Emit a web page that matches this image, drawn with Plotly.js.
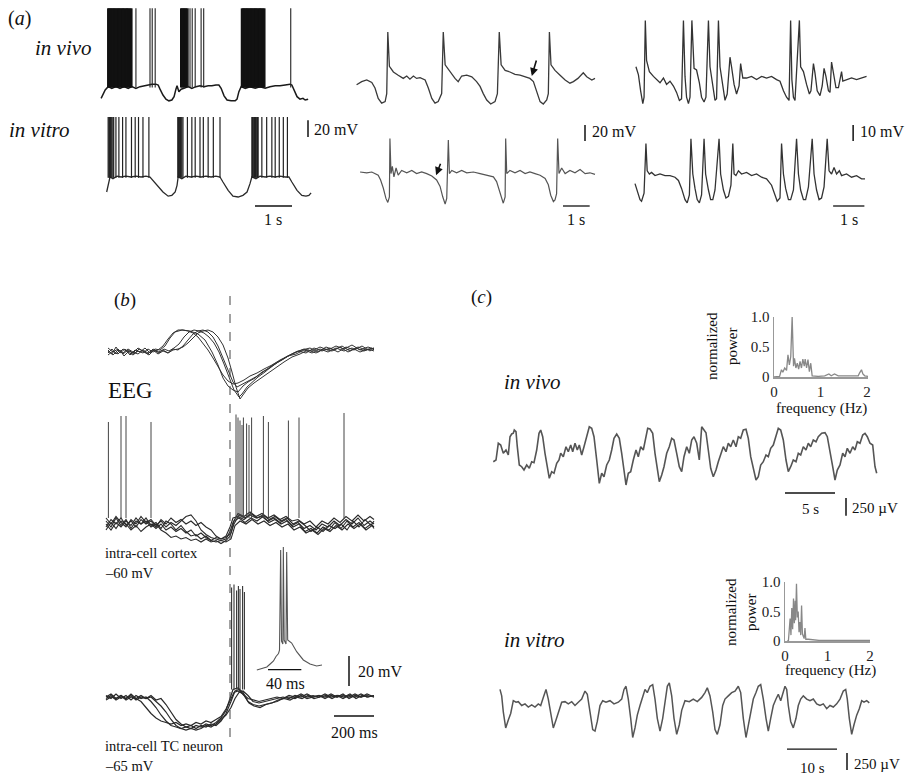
<!DOCTYPE html>
<html><head><meta charset="utf-8">
<script src="https://cdn.plot.ly/plotly-3.0.1.min.js"></script>
<style>html,body{margin:0;padding:0;background:#fff}#chart{width:910px;height:776px}</style>
</head><body><div id="chart"></div>
<script>
// ================= DATA (time, value) =================
// (a) column 1: time s, membrane potential mV
const aVivoSlow = [[0.03,-70],[0.08,-66],[0.14,-60],[0.22,-56],[0.32,-58],[0.43,-56],[0.54,-58],[0.65,-56],[0.76,-58],[0.86,-56],[0.97,-58],[1.08,-56],[1.19,-55],[1.30,-54],[1.40,-53],[1.51,-53],[1.57,-54],[1.62,-59],[1.70,-66],[1.78,-71],[1.86,-73],[1.94,-72],[2.00,-68],[2.05,-59],[2.08,-55],[2.13,-62],[2.19,-59],[2.27,-58],[2.38,-56],[2.48,-58],[2.59,-56],[2.70,-55],[2.81,-56],[2.92,-55],[3.02,-55],[3.13,-54],[3.21,-54],[3.27,-58],[3.35,-67],[3.43,-72],[3.54,-73],[3.65,-73],[3.70,-71],[3.75,-62],[3.81,-56],[3.92,-58],[4.05,-56],[4.19,-58],[4.32,-56],[4.46,-58],[4.59,-56],[4.73,-55],[4.86,-55],[5.00,-54],[5.13,-53],[5.18,-54],[5.24,-60],[5.32,-68],[5.40,-71],[5.48,-70],[5.54,-72],[5.62,-71]];
const aVivoBurstT = [0.22,0.24,0.27,0.30,0.32,0.35,0.38,0.40,0.43,0.46,0.49,0.51,0.54,0.57,0.60,0.62,0.65,0.68,0.71,0.73,0.76,0.79,0.82,0.85,
  2.19,2.21,2.24,2.27,2.29,2.32,2.35,
  3.83,3.86,3.89,3.91,3.94,3.97,3.99,4.02,4.05,4.08,4.10,4.13,4.16,4.19,4.21,4.24,4.27,4.30,4.32,4.35,4.38,4.41,4.44];
const aVivoSingleT = [0.97,1.35,1.41,1.49,2.38,2.43,2.49,2.57,2.73,2.80,5.15];
const aVivoSpikeBase = -57, aVivoSpikePeak = 38;
const aVitroSlow = [[0.18,-78],[0.22,-71],[0.27,-60],[0.35,-62],[0.46,-59],[0.57,-60],[0.70,-59],[0.84,-60],[0.97,-59],[1.11,-60],[1.24,-59],[1.35,-60],[1.43,-64],[1.57,-72],[1.70,-78],[1.84,-83],[1.94,-82],[2.03,-78],[2.08,-70],[2.11,-60],[2.21,-62],[2.32,-59],[2.46,-60],[2.59,-59],[2.73,-60],[2.86,-59],[3.00,-60],[3.13,-59],[3.24,-60],[3.32,-66],[3.46,-76],[3.59,-83],[3.73,-84],[3.86,-82],[3.97,-78],[4.05,-68],[4.10,-60],[4.21,-62],[4.32,-59],[4.46,-60],[4.59,-59],[4.73,-60],[4.86,-59],[5.00,-60],[5.10,-60],[5.18,-66],[5.32,-76],[5.45,-82],[5.56,-83],[5.64,-82],[5.70,-79]];
const aVitroSpikeT = [0.22,0.24,0.26,0.28,0.30,0.32,0.35,0.37,0.43,0.51,0.61,0.70,0.85,0.95,1.04,1.16,1.32,
  2.10,2.12,2.15,2.17,2.19,2.21,2.24,2.36,2.48,2.57,2.70,2.79,2.92,3.06,3.24,
  4.10,4.12,4.15,4.17,4.20,4.22,4.25,4.27,4.37,4.50,4.64,4.73,4.84,4.95,5.06];
const aVitroSpikeBase = -61, aVitroSpikePeak = 12;
// (a) column 2
const aVivo2 = [[0.06,-66],[0.25,-62],[0.44,-60],[0.63,-63],[0.75,-70],[0.87,-83],[1.00,-89],[1.13,-87],[1.19,-77],[1.23,0],[1.29,-43],[1.44,-50],[1.62,-54],[1.81,-58],[1.94,-55],[2.06,-59],[2.19,-55],[2.31,-58],[2.44,-57],[2.63,-60],[2.75,-70],[2.88,-83],[3.00,-89],[3.12,-87],[3.25,-77],[3.31,0],[3.38,-41],[3.56,-50],[3.75,-58],[3.87,-62],[4.00,-55],[4.19,-54],[4.38,-56],[4.56,-62],[4.69,-68],[4.81,-77],[4.94,-85],[5.09,-90],[5.25,-87],[5.34,-77],[5.41,0],[5.48,-41],[5.63,-48],[5.81,-50],[6.00,-53],[6.19,-54],[6.38,-56],[6.56,-58],[6.69,-62],[6.81,-75],[6.94,-87],[7.06,-90],[7.19,-85],[7.25,-77],[7.29,0],[7.35,-41],[7.50,-48],[7.69,-54],[7.88,-60],[8.06,-64],[8.19,-62],[8.36,-58],[8.56,-51],[8.69,-56],[8.88,-60],[9.00,-58]];
const aVitro2 = [[0.19,-60],[0.44,-61],[0.63,-60],[0.75,-62],[0.87,-64],[0.96,-70],[1.06,-80],[1.16,-93],[1.23,-98],[1.29,-91],[1.31,-18],[1.35,-62],[1.40,-53],[1.46,-66],[1.54,-55],[1.62,-64],[1.75,-58],[1.94,-61],[2.13,-58],[2.31,-62],[2.50,-60],[2.69,-62],[2.88,-65],[3.06,-70],[3.19,-78],[3.29,-91],[3.38,-100],[3.44,-93],[3.50,-20],[3.54,-62],[3.63,-58],[3.81,-61],[4.00,-58],[4.19,-61],[4.44,-60],[4.69,-62],[4.94,-64],[5.19,-66],[5.31,-72],[5.41,-83],[5.50,-95],[5.56,-99],[5.63,-91],[5.65,-18],[5.69,-62],[5.81,-58],[6.00,-61],[6.19,-58],[6.38,-62],[6.56,-60],[6.75,-62],[6.94,-64],[7.13,-68],[7.25,-76],[7.34,-89],[7.44,-97],[7.50,-95],[7.56,-87],[7.60,-18],[7.65,-62],[7.75,-55],[7.88,-62],[8.06,-58],[8.25,-61],[8.44,-57],[8.63,-62],[8.81,-61],[9.00,-63]];
// (a) column 3
const aVivo3 = [[0.19,-53],[0.27,-58],[0.34,-68],[0.41,-76],[0.45,-72],[0.49,-24],[0.53,-49],[0.62,-56],[0.75,-59],[0.85,-61],[0.96,-63],[1.07,-60],[1.17,-64],[1.28,-62],[1.39,-65],[1.49,-69],[1.58,-74],[1.65,-73],[1.71,-24],[1.76,-59],[1.81,-72],[1.87,-76],[1.92,-72],[1.98,-24],[2.05,-54],[2.13,-55],[2.22,-63],[2.29,-72],[2.37,-75],[2.43,-72],[2.51,-24],[2.56,-53],[2.65,-65],[2.72,-74],[2.77,-73],[2.83,-24],[2.88,-53],[2.97,-66],[3.04,-74],[3.11,-70],[3.20,-47],[3.25,-53],[3.33,-64],[3.41,-70],[3.49,-65],[3.54,-51],[3.61,-60],[3.73,-60],[3.89,-59],[4.05,-61],[4.21,-59],[4.37,-60],[4.53,-59],[4.69,-61],[4.80,-62],[4.91,-68],[5.01,-72],[5.09,-74],[5.14,-24],[5.18,-61],[5.23,-72],[5.28,-74],[5.42,-24],[5.46,-53],[5.55,-56],[5.65,-64],[5.74,-70],[5.79,-68],[5.87,-51],[5.92,-57],[5.99,-68],[6.08,-71],[6.15,-65],[6.21,-54],[6.27,-59],[6.35,-68],[6.40,-69],[6.45,-50],[6.51,-57],[6.59,-66],[6.67,-66],[6.77,-56],[6.81,-62],[6.93,-61],[7.09,-60],[7.25,-61],[7.41,-60],[7.57,-59]];
const aVitro3 = [[0.16,-66],[0.23,-71],[0.32,-76],[0.37,-77],[0.45,-72],[0.51,-41],[0.55,-58],[0.62,-60],[0.69,-59],[0.80,-61],[0.96,-60],[1.12,-61],[1.28,-61],[1.44,-62],[1.55,-64],[1.65,-69],[1.76,-76],[1.83,-78],[1.90,-73],[1.95,-38],[2.01,-60],[2.08,-69],[2.15,-76],[2.22,-78],[2.29,-73],[2.37,-38],[2.42,-60],[2.51,-70],[2.58,-76],[2.65,-76],[2.72,-70],[2.85,-38],[2.90,-60],[2.99,-70],[3.07,-75],[3.15,-74],[3.23,-67],[3.29,-41],[3.33,-60],[3.39,-61],[3.47,-58],[3.57,-60],[3.73,-59],[3.89,-61],[4.05,-60],[4.21,-62],[4.37,-63],[4.53,-67],[4.64,-73],[4.71,-77],[4.80,-75],[4.85,-41],[4.91,-60],[4.98,-69],[5.07,-76],[5.14,-76],[5.23,-70],[5.33,-38],[5.39,-60],[5.46,-70],[5.55,-76],[5.62,-76],[5.71,-68],[5.83,-38],[5.89,-60],[5.97,-70],[6.05,-76],[6.13,-75],[6.21,-68],[6.31,-38],[6.37,-58],[6.45,-60],[6.53,-56],[6.61,-60],[6.70,-58],[6.77,-61],[6.93,-60],[7.09,-62],[7.25,-61],[7.41,-63],[7.52,-63]];

// (b) time ms relative to the dashed line; EEG in µV; intracellular in mV
const eeg1 = [[-610,20],[-590,-20],[-570,50],[-550,-10],[-525,30],[-500,-30],[-475,20],[-450,0],[-425,40],[-400,-10],[-375,30],[-350,20],[-325,60],[-300,140],[-275,200],[-240,220],[-200,210],[-160,180],[-125,120],[-90,0],[-60,-130],[-35,-260],[-10,-340],[15,-380],[40,-400],[65,-340],[90,-300],[125,-260],[160,-200],[200,-160],[240,-100],[280,-50],[320,-10],[360,20],[400,40],[440,0],[480,50],[520,20],[560,60],[600,10],[640,50],[680,20],[720,40]];
const eeg2 = [[-610,-10],[-590,30],[-570,-20],[-550,20],[-530,-40],[-505,10],[-480,-20],[-455,30],[-430,0],[-405,-30],[-380,20],[-355,-10],[-330,30],[-305,10],[-280,40],[-255,80],[-230,150],[-205,200],[-180,220],[-155,210],[-130,190],[-105,150],[-80,90],[-55,0],[-30,-120],[-5,-260],[20,-380],[45,-450],[60,-420],[85,-350],[110,-300],[140,-250],[175,-200],[210,-140],[250,-90],[290,-40],[330,0],[370,30],[410,10],[450,50],[490,20],[530,60],[570,30],[610,70],[650,20],[690,50],[720,30]];
const eeg3 = [[-610,40],[-585,0],[-560,30],[-535,-20],[-510,20],[-485,-10],[-460,40],[-435,10],[-410,-20],[-385,30],[-360,0],[-335,20],[-310,-10],[-285,30],[-260,20],[-235,60],[-210,120],[-185,180],[-160,210],[-135,220],[-110,200],[-85,150],[-60,60],[-35,-60],[-10,-190],[15,-300],[35,-350],[55,-330],[80,-300],[110,-270],[145,-230],[180,-180],[220,-120],[260,-80],[300,-30],[340,10],[380,-10],[420,40],[460,10],[500,40],[540,0],[580,50],[620,20],[660,60],[700,10],[720,40]];
const eeg4 = [[-610,-30],[-585,10],[-560,-20],[-535,30],[-510,0],[-485,-30],[-460,10],[-435,-10],[-410,30],[-385,0],[-360,20],[-335,60],[-310,130],[-285,190],[-260,220],[-235,220],[-210,210],[-185,190],[-160,150],[-135,90],[-110,20],[-85,-60],[-60,-150],[-35,-230],[-10,-290],[15,-320],[40,-310],[70,-280],[100,-240],[135,-210],[170,-170],[210,-130],[250,-80],[290,-40],[330,-20],[370,20],[410,-10],[450,30],[490,0],[530,40],[570,10],[610,40],[650,0],[690,30],[720,10]];
const eeg5 = [[-610,10],[-585,-30],[-560,20],[-535,-10],[-510,30],[-485,0],[-460,-20],[-435,20],[-410,-10],[-385,20],[-360,-20],[-335,10],[-310,-10],[-285,20],[-260,30],[-235,50],[-210,90],[-185,140],[-160,190],[-135,210],[-110,220],[-85,200],[-60,150],[-35,70],[-10,-60],[10,-200],[30,-350],[50,-470],[65,-430],[90,-360],[120,-310],[155,-260],[190,-210],[230,-150],[270,-100],[310,-50],[350,-20],[390,20],[430,-10],[470,30],[510,10],[550,50],[590,0],[630,40],[670,10],[710,40],[720,20]];
const ctx1 = [[-620,-60],[-595,-64],[-570,-58],[-545,-63],[-520,-59],[-495,-65],[-470,-60],[-445,-62],[-420,-58],[-395,-63],[-370,-61],[-345,-65],[-320,-60],[-295,-62],[-270,-66],[-245,-63],[-220,-67],[-195,-70],[-170,-69],[-145,-72],[-120,-70],[-95,-73],[-70,-71],[-45,-72],[-20,-70],[0,-64],[15,-58],[40,-57],[70,-59],[100,-56],[130,-58],[160,-57],[190,-60],[220,-58],[250,-61],[280,-59],[310,-63],[340,-61],[370,-65],[400,-63],[430,-66],[460,-62],[490,-64],[520,-60],[550,-63],[580,-59],[610,-62],[640,-58],[670,-63],[700,-60],[720,-62]];
const ctx2 = [[-620,-64],[-595,-59],[-570,-62],[-545,-58],[-520,-63],[-495,-60],[-470,-64],[-445,-59],[-420,-62],[-395,-60],[-370,-64],[-345,-59],[-320,-62],[-295,-58],[-270,-61],[-245,-59],[-220,-62],[-195,-60],[-170,-63],[-145,-61],[-120,-64],[-95,-66],[-70,-70],[-45,-72],[-20,-71],[5,-68],[20,-60],[45,-58],[75,-61],[105,-58],[135,-60],[165,-57],[195,-61],[225,-59],[255,-62],[285,-60],[315,-64],[345,-62],[375,-67],[405,-65],[435,-68],[465,-64],[495,-66],[525,-61],[555,-65],[585,-60],[615,-64],[645,-61],[675,-65],[705,-62],[720,-64]];
const ctx3 = [[-620,-62],[-595,-66],[-570,-61],[-545,-64],[-520,-60],[-495,-63],[-470,-58],[-445,-62],[-420,-60],[-395,-64],[-370,-62],[-345,-66],[-320,-68],[-295,-71],[-270,-70],[-245,-72],[-220,-71],[-195,-73],[-170,-72],[-145,-74],[-120,-72],[-95,-74],[-70,-73],[-45,-75],[-20,-73],[0,-70],[20,-62],[45,-56],[75,-58],[105,-55],[135,-58],[165,-56],[195,-59],[225,-57],[255,-60],[285,-58],[315,-62],[345,-60],[375,-63],[405,-67],[435,-64],[465,-67],[495,-63],[525,-65],[555,-62],[585,-66],[615,-60],[645,-64],[675,-59],[705,-63],[720,-60]];
const ctx4 = [[-620,-58],[-595,-62],[-570,-57],[-545,-61],[-520,-64],[-495,-59],[-470,-62],[-445,-57],[-420,-61],[-395,-59],[-370,-63],[-345,-60],[-320,-64],[-295,-61],[-270,-63],[-245,-60],[-220,-57],[-195,-56],[-170,-60],[-145,-66],[-120,-69],[-95,-71],[-70,-72],[-45,-73],[-20,-72],[0,-67],[15,-61],[40,-55],[70,-57],[100,-54],[130,-57],[160,-55],[190,-58],[220,-56],[250,-59],[280,-57],[310,-60],[340,-59],[370,-62],[400,-60],[430,-64],[460,-60],[490,-62],[520,-58],[550,-61],[580,-57],[610,-60],[640,-56],[670,-60],[700,-57],[720,-59]];
const ctx5 = [[-620,-66],[-595,-61],[-570,-65],[-545,-60],[-520,-62],[-495,-66],[-470,-63],[-445,-67],[-420,-64],[-395,-62],[-370,-65],[-345,-62],[-320,-66],[-295,-64],[-270,-67],[-245,-65],[-220,-68],[-195,-66],[-170,-70],[-145,-68],[-120,-71],[-95,-73],[-70,-74],[-45,-73],[-20,-74],[5,-72],[25,-63],[50,-60],[80,-62],[110,-59],[140,-62],[170,-60],[200,-63],[230,-61],[260,-64],[290,-62],[320,-66],[350,-64],[380,-68],[410,-66],[440,-69],[470,-65],[500,-67],[530,-63],[560,-66],[590,-62],[620,-65],[650,-62],[680,-66],[710,-63],[720,-65]];
const ctxSpikeT = [-608,-545,-520,-395,30,40,50,60,67,83,95,108,167,192,292,345,570];
const ctxSpikePeak = [6,10,10,6,11,9,7,4,9,5,4,9,10,6,7,9,12];
const ctxSpikeBase = -58;
const tc1 = [[-620,-64],[-595,-66],[-570,-63],[-545,-66],[-520,-64],[-495,-67],[-470,-64],[-445,-66],[-420,-65],[-395,-68],[-370,-72],[-345,-77],[-320,-81],[-295,-84],[-270,-85],[-245,-86],[-220,-85],[-195,-86],[-170,-84],[-145,-85],[-120,-83],[-95,-84],[-70,-82],[-45,-79],[-20,-74],[0,-66],[15,-60],[40,-59],[65,-62],[90,-68],[115,-70],[145,-71],[175,-70],[205,-69],[235,-68],[265,-66],[295,-65],[325,-66],[355,-64],[385,-66],[415,-65],[445,-64],[475,-66],[505,-64],[535,-65],[565,-63],[595,-66],[625,-64],[655,-65],[685,-63],[720,-65]];
const tc2 = [[-620,-66],[-595,-64],[-570,-67],[-545,-65],[-520,-66],[-495,-64],[-470,-67],[-445,-65],[-420,-66],[-395,-64],[-370,-67],[-345,-66],[-320,-70],[-295,-75],[-270,-80],[-245,-83],[-220,-85],[-195,-84],[-170,-86],[-145,-84],[-120,-85],[-95,-83],[-70,-84],[-45,-81],[-20,-76],[5,-68],[25,-61],[45,-60],[70,-64],[95,-69],[120,-71],[150,-72],[180,-70],[210,-69],[240,-67],[270,-66],[300,-67],[330,-65],[360,-66],[390,-64],[420,-66],[450,-65],[480,-64],[510,-66],[540,-64],[570,-65],[600,-63],[630,-66],[660,-64],[690,-65],[720,-64]];
const tc3 = [[-620,-65],[-595,-63],[-570,-66],[-545,-64],[-520,-66],[-495,-63],[-470,-66],[-445,-68],[-420,-72],[-395,-76],[-370,-79],[-345,-81],[-320,-82],[-295,-83],[-270,-82],[-245,-84],[-220,-83],[-195,-84],[-170,-82],[-145,-83],[-120,-81],[-95,-82],[-70,-80],[-45,-78],[-20,-73],[0,-67],[20,-62],[40,-61],[65,-63],[90,-66],[115,-67],[145,-68],[175,-67],[205,-66],[235,-65],[265,-66],[295,-64],[325,-65],[355,-63],[385,-65],[415,-64],[445,-65],[475,-63],[505,-65],[535,-64],[565,-66],[595,-64],[625,-65],[655,-63],[685,-65],[720,-64]];
const tc4 = [[-620,-67],[-595,-65],[-570,-66],[-545,-64],[-520,-67],[-495,-65],[-470,-66],[-445,-64],[-420,-66],[-395,-65],[-370,-68],[-345,-71],[-320,-75],[-295,-80],[-270,-84],[-245,-86],[-220,-87],[-195,-86],[-170,-87],[-145,-86],[-120,-84],[-95,-85],[-70,-83],[-45,-80],[-20,-77],[5,-72],[25,-66],[45,-62],[65,-61],[90,-64],[115,-68],[145,-69],[175,-68],[205,-67],[235,-66],[265,-65],[295,-66],[325,-64],[355,-65],[385,-63],[415,-65],[445,-64],[475,-65],[505,-63],[535,-65],[565,-64],[595,-65],[625,-63],[655,-65],[685,-64],[720,-65]];
const tcSpikeT = [8,20,33,42,50,63,72];
const tcSpikePeak = [8,10,6,9,7,9,5];
const tcSpikeBase = -60;
const tcInsetSpike = [[1,-65],[7,-64],[13,-63],[17,-61],[21,-59],[24,-56],[27,-54],[28.2,-51.7],[29.6,15],[30.6,-45.7],[32.2,-47.7],[32.8,17],[33.8,-45],[36,-47.7],[36.8,13.7],[38,-45],[42.8,-47],[48.8,-52.8],[56.8,-58.3],[64.8,-61],[72.8,-62.3],[79.2,-61.7]];

// (c) EEG: time s, µV ; spectra: frequency Hz, normalized power
const eegVivo = [[0.33,-94],[0.6,-70],[0.83,164],[1.07,140],[1.33,24],[1.6,70],[1.83,0],[2.0,256],[2.17,294],[2.33,304],[2.43,350],[2.6,326],[2.73,116],[2.93,-140],[3.17,-164],[3.4,-210],[3.67,-140],[3.93,-186],[4.17,-94],[4.4,-108],[4.67,70],[4.9,304],[5.07,350],[5.27,256],[5.5,24],[5.73,-186],[5.93,-326],[6.17,-234],[6.4,-256],[6.67,-116],[6.9,-70],[7.07,24],[7.33,-24],[7.6,116],[7.83,46],[8.07,140],[8.27,46],[8.5,164],[8.73,70],[8.93,140],[9.17,0],[9.4,116],[9.67,256],[9.93,396],[10.17,374],[10.4,256],[10.67,-70],[10.93,-396],[11.17,-256],[11.4,-304],[11.67,-140],[11.93,-70],[12.17,70],[12.4,234],[12.67,294],[12.93,234],[13.17,24],[13.4,-210],[13.6,-420],[13.83,-256],[14.07,-234],[14.33,-70],[14.6,70],[14.83,-24],[15.07,116],[15.33,70],[15.57,256],[15.77,374],[16.0,364],[16.27,304],[16.5,24],[16.73,-210],[16.93,-374],[17.17,-280],[17.4,-164],[17.67,24],[17.93,116],[18.17,234],[18.4,210],[18.67,24],[18.93,-164],[19.17,-234],[19.4,-24],[19.67,116],[19.93,24],[20.17,210],[20.4,256],[20.67,164],[20.93,-70],[21.17,396],[21.4,350],[21.6,312],[21.83,70],[22.07,-186],[22.33,-304],[22.6,-210],[22.83,-94],[23.07,24],[23.33,116],[23.6,46],[23.83,164],[24.07,116],[24.33,210],[24.6,116],[24.83,256],[25.07,234],[25.33,350],[25.6,360],[25.83,234],[26.07,-24],[26.33,-210],[26.6,-350],[26.83,-304],[27.07,-140],[27.33,-94],[27.6,0],[27.83,-24],[28.07,94],[28.33,140],[28.6,256],[28.83,374],[29.07,350],[29.33,210],[29.6,-70],[29.83,-234],[30.07,-164],[30.33,-70],[30.6,-94],[30.83,24],[31.07,0],[31.33,116],[31.6,70],[31.83,164],[32.07,116],[32.33,210],[32.6,186],[32.83,256],[33.17,304],[33.5,312],[33.73,256],[34.0,70],[34.27,-164],[34.5,-350],[34.73,-210],[35.0,-140],[35.27,24],[35.5,-24],[35.73,94],[36.0,24],[36.27,116],[36.5,70],[36.73,186],[37.0,164],[37.27,280],[37.5,304],[37.73,256],[38.0,164],[38.27,140],[38.5,-164],[38.67,-256]];
const eegVitro = [[1.0,210],[1.34,116],[1.66,-116],[2.14,-350],[2.66,-234],[3.14,-140],[3.66,46],[4.2,24],[4.66,32],[5.34,-24],[6.0,0],[6.66,-46],[7.34,-14],[8.0,-46],[8.66,0],[9.14,-24],[9.66,94],[10.2,210],[10.66,70],[11.14,-164],[11.66,-350],[12.2,-234],[12.66,-116],[13.34,24],[14.0,32],[14.66,0],[15.34,32],[16.0,-24],[16.66,24],[17.34,70],[18.0,186],[18.46,140],[19.0,-116],[19.54,-374],[20.0,-396],[20.46,-256],[21.0,-24],[21.54,46],[22.2,24],[23.0,46],[23.8,0],[24.66,24],[25.34,70],[25.8,210],[26.2,256],[26.66,70],[27.14,-210],[27.54,-490],[28.0,-350],[28.46,-164],[29.0,-24],[29.54,116],[30.0,210],[30.46,164],[31.0,256],[31.54,280],[32.0,70],[32.46,-210],[33.0,-396],[33.54,-210],[34.0,24],[34.46,256],[34.86,304],[35.34,116],[35.8,-210],[36.34,-444],[36.86,-304],[37.34,-94],[38.0,46],[38.86,32],[39.66,70],[40.46,32],[41.34,94],[42.0,164],[42.46,234],[43.0,116],[43.54,-116],[44.0,-374],[44.46,-444],[45.0,-304],[45.54,-24],[46.0,70],[46.66,116],[47.34,164],[48.0,186],[48.66,256],[49.14,164],[49.66,-210],[50.2,-490],[50.66,-326],[51.14,-116],[51.66,70],[52.2,164],[52.66,256],[53.14,280],[53.66,70],[54.2,-210],[54.66,-396],[55.14,-210],[55.66,-24],[56.2,70],[56.66,140],[57.14,46],[57.54,164],[58.0,256],[58.34,210],[58.66,-24],[59.14,-256],[59.66,-350],[60.2,-210],[60.66,-24],[61.14,70],[61.66,116],[62.34,70],[63.0,46],[63.66,70],[64.34,0],[65.0,-24],[65.66,0],[66.34,-70],[67.0,-24],[67.66,-46],[68.34,0],[69.0,70],[69.66,186],[70.14,210],[70.46,70],[70.86,-210],[71.34,-444],[71.8,-304],[72.34,-164],[72.86,-70],[73.34,46],[73.8,24],[74.34,46],[74.86,14]];
const specVivo = [[0,0],[0.12,0.01],[0.16,0.12],[0.19,0.08],[0.23,0.15],[0.27,0.11],[0.30,0.37],[0.33,0.2],[0.36,0.34],[0.39,1.0],[0.42,0.18],[0.44,0.31],[0.47,0.15],[0.50,0.23],[0.53,0.13],[0.56,0.26],[0.59,0.15],[0.62,0.30],[0.65,0.18],[0.67,0.30],[0.70,0.15],[0.73,0.29],[0.76,0.09],[0.79,0.23],[0.82,0.02],[0.95,0.01],[1.09,0.02],[1.18,0.05],[1.23,0.02],[1.30,0.05],[1.38,0.02],[1.52,0.02],[1.66,0.02],[1.81,0.02],[1.84,0.07],[1.88,0.12],[1.91,0.05],[1.95,0.02],[2.02,0.01]];
const specVitro = [[0.05,0],[0.08,0],[0.12,0.38],[0.14,0.1],[0.16,0.56],[0.18,0.2],[0.20,0.72],[0.22,0.3],[0.24,0.68],[0.25,0.35],[0.27,0.97],[0.29,0.4],[0.31,0.5],[0.33,0.15],[0.35,0.32],[0.37,0.1],[0.39,0.6],[0.41,0.12],[0.43,0.08],[0.45,0.04],[0.47,0.22],[0.49,0.03],[0.55,0.03],[0.65,0.02],[0.8,0.01],[1.0,0.01],[1.5,0.01],[2.0,0.01]];
const specTickX = [0,1,2], specTickXText = ['0','1','2'];
const specTickY = [0,0.5,1], specTickYText = ['0','0.5','1.0'];

// ================= FIGURE =================
const W = 910, H = 776;
const SERIF = 'Liberation Serif, Times New Roman, serif';
const layout = {width:W, height:H, margin:{l:0,r:0,t:0,b:0}, paper_bgcolor:'#fff', plot_bgcolor:'rgba(0,0,0,0)',
  showlegend:false, shapes:[], annotations:[], hovermode:false, font:{family:SERIF, color:'#111'}};
const data = [];
let axN = 0;
// box = [left px, right px, top px, bottom px]; x0/y0 = value at left/top edge; xs/ys = units per pixel
function panel(box, x0, xs, y0, ys) {
  axN++; const n = axN === 1 ? '' : String(axN);
  const [l, r, t, b] = box;
  layout['xaxis'+n] = {domain:[l/W, r/W], range:[x0, x0 + (r-l)*xs], visible:false, fixedrange:true, anchor:'y'+n};
  layout['yaxis'+n] = {domain:[1-b/H, 1-t/H], range:[y0 - (b-t)*ys, y0], visible:false, fixedrange:true, anchor:'x'+n};
  return {x:'x'+n, y:'y'+n, n:n};
}
function line(p, pts, color, width) {
  data.push({type:'scatter', mode:'lines', x:pts.map(q=>q[0]), y:pts.map(q=>q[1]), xaxis:p.x, yaxis:p.y,
    line:{color:color, width:width}, hoverinfo:'skip'});
}
function spikes(p, times, base, peak, color, width) {
  const xs = [], ys = [];
  times.forEach((t, i) => { xs.push(t, t, null); ys.push(base, Array.isArray(peak) ? peak[i] : peak, null); });
  data.push({type:'scatter', mode:'lines', x:xs, y:ys, xaxis:p.x, yaxis:p.y, line:{color:color, width:width}, hoverinfo:'skip'});
}
function hbar(p, xa, xb, y) { layout.shapes.push({type:'line', xref:p.x, yref:p.y, x0:xa, x1:xb, y0:y, y1:y, line:{color:'#111', width:1.3}}); }
function vbar(p, x, ya, yb) { layout.shapes.push({type:'line', xref:p.x, yref:p.y, x0:x, x1:x, y0:ya, y1:yb, line:{color:'#111', width:1.5}}); }
function txt(s, px, py, anchor, size, extra) {
  layout.annotations.push(Object.assign({text:s, xref:'paper', yref:'paper', x:px/W, y:1-py/H, xanchor:anchor, yanchor:'middle',
    showarrow:false, font:{family:SERIF, size:size, color:'#111'}}, extra || {}));
}

// ---- (a)
const pA1 = panel([98,314,0,108], -0.054, 0.027, 48, 1.2);
const pA2 = panel([98,314,108,225], -0.054, 0.027, 22.8, 1.2);
const pA3 = panel([355,600,0,108], 0, 0.0375, 40, 1.25);
const pA4 = panel([355,600,108,225], 0, 0.0375, 20, 1.25);
const pA5 = panel([630,880,0,108], 0, 0.032, -11.25, 0.625);
const pA6 = panel([630,880,108,225], 0, 0.032, -18.75, 0.625);
line(pA1, aVivoSlow, '#1a1a1a', 1.5);
spikes(pA1, aVivoBurstT, aVivoSpikeBase, aVivoSpikePeak, '#111', 2.2);
spikes(pA1, aVivoSingleT, aVivoSpikeBase, aVivoSpikePeak, '#222', 1.1);
line(pA2, aVitroSlow, '#2a2a2a', 1.3);
spikes(pA2, aVitroSpikeT, aVitroSpikeBase, aVitroSpikePeak, '#222', 1.2);
line(pA3, aVivo2, '#3a3a3a', 1.3);
line(pA4, aVitro2, '#555', 1.2);
line(pA5, aVivo3, '#333', 1.3);
line(pA6, aVitro3, '#333', 1.3);
hbar(pA2, 4.185, 5.185, -94.8); vbar(pA2, 5.616, -12, 8);
hbar(pA4, 7.8, 8.8, -102.5);   vbar(pA4, 8.625, -21.25, -1.25);
hbar(pA6, 6.5, 7.5, -80);      vbar(pA6, 7.14, -39.4, -29.4);
layout.annotations.push({xref:pA3.x, yref:pA3.y, x:6.63, y:-55, ax:5, ay:-17, text:'', showarrow:true, arrowhead:2, arrowsize:1, arrowwidth:1.6, arrowcolor:'#111'});
layout.annotations.push({xref:pA4.x, yref:pA4.y, x:3.04, y:-64, ax:5, ay:-13, text:'', showarrow:true, arrowhead:2, arrowsize:1, arrowwidth:1.6, arrowcolor:'#111'});
txt('(<i>a</i>)', 6, 18, 'left', 20);
txt('<i>in vivo</i>', 33, 48, 'left', 21);
txt('<i>in vitro</i>', 7, 130, 'left', 21);
txt('20 mV', 312, 130, 'left', 16); txt('1 s', 273, 219, 'center', 16);
txt('20 mV', 590, 131, 'left', 16); txt('1 s', 576, 219, 'center', 16);
txt('10 mV', 858, 131, 'left', 16); txt('1 s', 849, 219, 'center', 16);

// ---- (b)
const pBE = panel([100,380,300,412], -650, 5, 520, 10);
const pBC = panel([100,380,405,550], -650, 5, 17.33, 2/3);
const pBT = panel([100,380,575,745], -650, 5, 16.33, 2/3);
const pBI = panel([250,330,540,680], -7.2, 1.2, 21.67, 2/3);
[eeg1, eeg2, eeg3, eeg4, eeg5].forEach(e => line(pBE, e, '#333', 1));
[ctx1, ctx2, ctx3, ctx4, ctx5].forEach(e => line(pBC, e, '#2a2a2a', 1.1));
spikes(pBC, ctxSpikeT, ctxSpikeBase, ctxSpikePeak, '#444', 1);
[tc1, tc2, tc3, tc4].forEach(e => line(pBT, e, '#2a2a2a', 1.2));
spikes(pBT, tcSpikeT, tcSpikeBase, tcSpikePeak, '#333', 1.1);
line(pBI, tcInsetSpike, '#555', 1.1);
layout.shapes.push({type:'line', xref:'paper', yref:'paper', x0:230/W, x1:230/W, y0:1-737/H, y1:1-295/H, line:{color:'#444', width:1, dash:'dash'}});
hbar(pBT, 520, 720, -77.67); vbar(pBT, 595, -57.67, -37.67);
hbar(pBI, 14.4, 54.4, -64.7);
txt('(<i>b</i>)', 112, 300, 'left', 19);
txt('EEG', 106, 390, 'left', 23);
txt('intra-cell cortex', 103, 553, 'left', 14.5);
txt('–60 mV', 103, 573, 'left', 14.5);
txt('intra-cell TC neuron', 103, 746, 'left', 14.5);
txt('–65 mV', 103, 766, 'left', 14.5);
txt('40 ms', 285, 683, 'center', 16);
txt('20 mV', 356, 671, 'left', 16);
txt('200 ms', 354, 732, 'center', 16);

// ---- (c)
const pCV = panel([488,880,415,520], -0.2, 0.1, 560, 14);
const pCT = panel([495,880,675,780], 0, 0.2, 420, 14);
line(pCV, eegVivo, '#555', 1.6);
line(pCT, eegVitro, '#555', 1.5);
hbar(pCV, 29.5, 34.5, -532); vbar(pCV, 35.6, -602, -852);
hbar(pCT, 58.4, 68.4, -658); vbar(pCT, 70.4, -714, -964);
function specPanel(box, xmax) {
  axN++; const n = String(axN); const [l, r, t, b] = box;
  const f = {family:SERIF, size:15, color:'#222'};
  layout['xaxis'+n] = {domain:[l/W, r/W], range:[0, xmax], anchor:'y'+n, showline:true, linecolor:'#999', linewidth:1.5,
    showgrid:false, zeroline:false, ticks:'', tickvals:specTickX, ticktext:specTickXText, tickfont:f, fixedrange:true};
  layout['yaxis'+n] = {domain:[1-b/H, 1-t/H], range:[0, 1], anchor:'x'+n, showline:true, linecolor:'#999', linewidth:1.5,
    showgrid:false, zeroline:false, ticks:'', tickvals:specTickY, ticktext:specTickYText, tickfont:f, fixedrange:true};
  return {x:'x'+n, y:'y'+n};
}
const pSV = specPanel([774,868,317,377], 2.02);
const pST = specPanel([785,870,582,641], 2.0);
line(pSV, specVivo, '#888', 1.3);
line(pST, specVitro, '#888', 1.3);
txt('(<i>c</i>)', 469, 297, 'left', 19);
txt('<i>in vivo</i>', 502, 382, 'left', 21);
txt('<i>in vitro</i>', 502, 640, 'left', 21);
txt('5 s', 810, 509, 'center', 15);
txt('250 µV', 850, 508, 'left', 15);
txt('10 s', 812, 768, 'center', 15);
txt('250 µV', 852, 764, 'left', 15);
txt('frequency (Hz)', 821, 408, 'center', 15);
txt('frequency (Hz)', 830, 670, 'center', 15);
txt('normalized<br>power', 722, 346, 'center', 15, {textangle:-90});
txt('normalized<br>power', 741, 612, 'center', 15, {textangle:-90});

Plotly.newPlot('chart', data, layout, {staticPlot:true, displayModeBar:false});
</script>
</body></html>
